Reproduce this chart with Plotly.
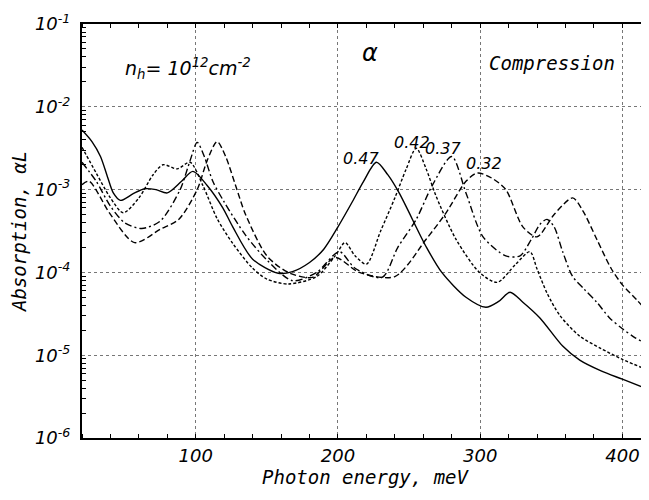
import plotly.graph_objects as go

# Photon energy (meV) and log10(absorption) for each curve
x_047 = [20, 27, 33, 38, 42, 47, 56, 64, 72, 80, 90, 98, 108, 119, 126, 140, 158, 168, 180, 190, 200, 210, 218, 227, 235, 243, 262, 273, 290, 304, 313, 321, 330, 342, 358, 370, 385, 400, 418]
y_047 = [-2.28, -2.42, -2.6, -2.85, -3.04, -3.13, -3.05, -2.99, -3.0, -3.04, -2.9, -2.78, -2.95, -3.22, -3.45, -3.84, -4.01, -3.99, -3.88, -3.72, -3.45, -3.15, -2.9, -2.67, -2.82, -3.04, -3.69, -4.0, -4.3, -4.42, -4.35, -4.24, -4.36, -4.55, -4.89, -5.06, -5.19, -5.29, -5.41]

x_042 = [20, 30, 40, 49, 60, 70, 77, 87, 96, 105, 115, 126, 140, 150, 165, 185, 198, 205, 212, 220, 230, 240, 248, 255, 262, 269, 283, 299.5, 312, 325, 335, 340, 347, 356, 370, 385, 400, 418]
y_042 = [-2.49, -2.8, -3.1, -3.28, -3.1, -2.82, -2.7, -2.75, -2.67, -2.95, -3.35, -3.65, -3.95, -4.08, -4.14, -4.05, -3.8, -3.64, -3.8, -3.9, -3.5, -3.1, -2.75, -2.5, -2.75, -3.08, -3.6, -4.0, -4.12, -3.9, -3.75, -3.96, -4.25, -4.52, -4.77, -4.92, -5.05, -5.18]

x_037 = [20, 30, 40, 50, 62, 75, 89, 96, 101, 106, 112, 120, 135, 150, 168, 185, 201, 212, 231, 242, 255, 266, 280, 290, 302, 318, 328, 336, 342, 347, 352, 358, 365, 373, 382, 391, 400, 409, 418]
y_037 = [-2.67, -2.9, -3.2, -3.4, -3.47, -3.38, -3.0, -2.65, -2.43, -2.6, -2.9, -3.15, -3.55, -3.85, -4.1, -4.0, -3.75, -3.95, -4.06, -3.7, -3.36, -2.96, -2.6, -3.04, -3.57, -3.8, -3.8, -3.6, -3.42, -3.36, -3.45, -3.75, -4.05, -4.2, -4.36, -4.55, -4.68, -4.79, -4.87]

x_032 = [20, 25, 40, 57, 75, 88, 101, 108, 115, 121, 128, 135, 150, 165, 182, 198, 215, 240, 262, 276, 290, 298, 308, 318, 330, 340, 352, 365, 372, 382, 392, 400, 410, 418]
y_032 = [-2.94, -2.9, -3.3, -3.64, -3.48, -3.36, -3.0, -2.65, -2.42, -2.6, -2.95, -3.3, -3.8, -4.0, -4.06, -3.82, -4.0, -4.05, -3.6, -3.28, -2.9, -2.8, -2.86, -3.0, -3.45, -3.57, -3.3, -3.1, -3.25, -3.6, -3.95, -4.15, -4.33, -4.48]

series_names = ["0.47", "0.42", "0.37", "0.32"]
y_tick_vals = [1e-6, 1e-5, 1e-4, 1e-3, 1e-2, 1e-1]
y_tick_text = ["10<sup>-6</sup>", "10<sup>-5</sup>", "10<sup>-4</sup>", "10<sup>-3</sup>", "10<sup>-2</sup>", "10<sup>-1</sup>"]
x_tick_vals = [100, 200, 300, 400]
y_minor_vals = [k * 10.0 ** e for e in range(-6, -1) for k in range(2, 10)]
x_minor_vals = list(range(20, 420, 20))

dashes = ["solid", "3px,2px", "7px,3px,2px,3px", "6px,3px"]
data = [(x_047, y_047), (x_042, y_042), (x_037, y_037), (x_032, y_032)]

fig = go.Figure()
for (xs, ys), name, d in zip(data, series_names, dashes):
    fig.add_trace(go.Scatter(
        x=xs, y=[10 ** v for v in ys], mode="lines", name=name,
        line=dict(color="black", width=1.4, dash=d, shape="spline", smoothing=0.8),
        showlegend=False,
    ))

ifont = dict(family="DejaVu Sans", size=18, color="black", style="italic")
tfont = dict(family="DejaVu Sans Mono", size=19, color="black", style="italic")

# page body has an 8px margin: plot area spans x 82..648, y 24..438 of the window
fig.update_layout(
    width=641, height=492,
    margin=dict(l=74, r=1, t=16, b=62),
    plot_bgcolor="white", paper_bgcolor="white",
    xaxis=dict(
        range=[20, 418], tickvals=x_tick_vals, ticktext=[str(v) for v in x_tick_vals],
        showgrid=True, gridcolor="#777", griddash="dot", gridwidth=1,
        showline=True, linecolor="black", linewidth=2, mirror="ticks",
        ticks="", tickfont=ifont, zeroline=False, automargin=False,
        title=dict(text="Photon energy, meV", font=tfont, standoff=6),
        minor=dict(tickvals=x_minor_vals, ticks="inside", ticklen=4, tickcolor="black", showgrid=False),
    ),
    yaxis=dict(
        type="log", range=[-6, -1], tickvals=y_tick_vals, ticktext=y_tick_text,
        showgrid=True, gridcolor="#777", griddash="dot", gridwidth=1,
        showline=True, linecolor="black", linewidth=2, mirror="ticks",
        ticks="", tickfont=ifont, ticklabelstandoff=6, zeroline=False, automargin=False,
        title=dict(text="Absorption, αL", font=tfont, standoff=14),
        minor=dict(tickvals=y_minor_vals, ticks="inside", ticklen=4, tickcolor="black", showgrid=False),
    ),
)

def px2paper(px, py):
    return (px - 82) / 566, (438 - py) / 414

# in-plot texts
ax, ay = px2paper(123, 68)
fig.add_annotation(x=ax, y=ay, xref="paper", yref="paper", xanchor="left", yanchor="middle",
                   text="n<sub>h</sub>= 10<sup>12</sup>cm<sup>-2</sup>", showarrow=False,
                   font=dict(family="DejaVu Sans", size=19, color="black", style="italic"))
ax, ay = px2paper(370, 53)
fig.add_annotation(x=ax, y=ay, xref="paper", yref="paper", xanchor="center", yanchor="middle",
                   text="α", showarrow=False, font=dict(family="DejaVu Sans", size=24, color="black", style="italic"))
ax, ay = px2paper(487, 63)
fig.add_annotation(x=ax, y=ay, xref="paper", yref="paper", xanchor="left", yanchor="middle",
                   text="Compression", showarrow=False,
                   font=dict(family="DejaVu Sans Mono", size=19, color="black", style="italic"))

label_x = [361, 412, 463, 504]
label_y = [147, 131, 137, 152]
for name, px, py in zip(series_names, label_x, label_y):
    ax, ay = px2paper(px, py)
    fig.add_annotation(x=ax, y=ay, xref="paper", yref="paper",
                       text=name, showarrow=False,
                       font=dict(family="DejaVu Sans", size=16, color="black", style="italic"))

fig.write_html("out.html")
